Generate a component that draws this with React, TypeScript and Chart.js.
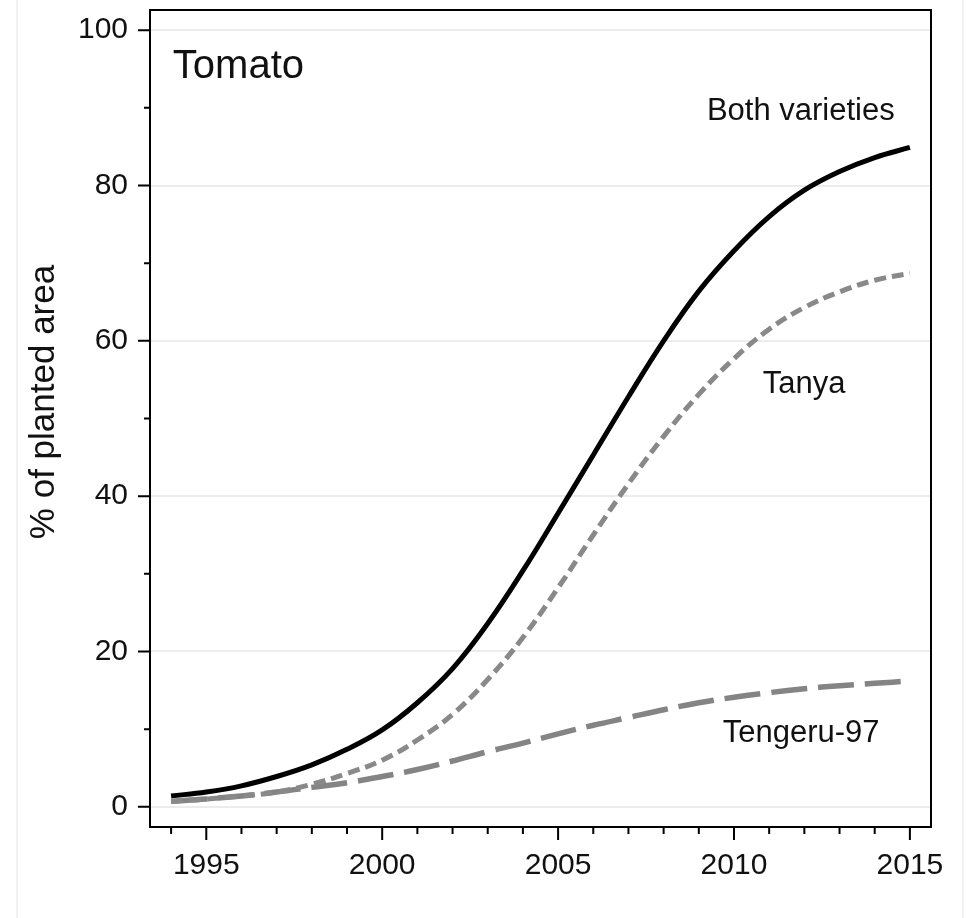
import React, { useEffect, useRef } from "react";
import { Chart, registerables } from "chart.js";

Chart.register(...registerables);

// ---- data ----
const years = [1994, 1995, 1996, 1997, 1998, 1999, 2000, 2001, 2002, 2003, 2004, 2005, 2006, 2007, 2008, 2009, 2010, 2011, 2012, 2013, 2014, 2015];
const bothVarieties = [1.4, 1.9, 2.7, 3.9, 5.4, 7.4, 9.9, 13.4, 17.8, 23.6, 30.4, 37.8, 45.3, 52.8, 60.0, 66.4, 71.6, 76.0, 79.4, 81.8, 83.6, 84.9];
const tanya = [0.7, 1.0, 1.4, 1.9, 2.9, 4.3, 6.0, 8.6, 11.9, 16.4, 21.8, 28.2, 35.0, 41.6, 47.7, 53.1, 57.7, 61.5, 64.3, 66.3, 67.8, 68.7];
const tengeru97 = [0.7, 1.0, 1.4, 1.9, 2.5, 3.1, 3.9, 4.8, 5.9, 7.1, 8.2, 9.4, 10.5, 11.5, 12.5, 13.4, 14.1, 14.7, 15.2, 15.6, 15.9, 16.2];

const seriesNames = ["Both varieties", "Tanya", "Tengeru-97"];
const panelTitle = "Tomato";
const yAxisTitle = "% of planted area";

const yTickValues = [0, 10, 20, 30, 40, 50, 60, 70, 80, 90, 100];
const yLabelValues = [0, 20, 40, 60, 80, 100];
const xLabelYears = [1995, 2000, 2005, 2010, 2015];

const FONT = '"Liberation Sans", Arial, Helvetica, sans-serif';

// text anchors in data coordinates (left x, baseline y)
const textAnchors = [
  { text: panelTitle, x: 1994.05, y: 93.8, size: 40 },
  { text: seriesNames[0], x: 2009.23, y: 88.4, size: 31 },
  { text: seriesNames[1], x: 2010.82, y: 53.3, size: 31 },
  { text: seriesNames[2], x: 2009.68, y: 8.4, size: 31 },
];

const decorPlugin = {
  id: "decor",
  afterDraw(chart: any) {
    const ctx = chart.ctx;
    const { left, right, top, bottom } = chart.chartArea;
    const xs = chart.scales.x;
    const ys = chart.scales.y;
    ctx.save();
    // faint outer frame lines
    ctx.strokeStyle = "#ededed";
    ctx.lineWidth = 1.5;
    ctx.beginPath();
    ctx.moveTo(17, 0);
    ctx.lineTo(17, chart.height);
    ctx.moveTo(963, 0);
    ctx.lineTo(963, chart.height);
    ctx.stroke();

    // plot box
    ctx.strokeStyle = "#000";
    ctx.lineWidth = 2;
    ctx.strokeRect(left, top, right - left, bottom - top);

    // tick marks
    ctx.beginPath();
    ys.ticks.forEach((t: any) => {
      const py = ys.getPixelForValue(t.value);
      const len = yLabelValues.includes(t.value) ? 12 : 6;
      ctx.moveTo(left - len, py);
      ctx.lineTo(left, py);
    });
    xs.ticks.forEach((t: any) => {
      const px = xs.getPixelForValue(t.value);
      const len = xLabelYears.includes(t.value) ? 13 : 7;
      ctx.moveTo(px, bottom);
      ctx.lineTo(px, bottom + len);
    });
    ctx.stroke();

    // annotations
    ctx.fillStyle = "#111";
    ctx.textBaseline = "alphabetic";
    ctx.textAlign = "left";
    textAnchors.forEach((a) => {
      ctx.font = `${a.size}px ${FONT}`;
      ctx.fillText(a.text, xs.getPixelForValue(a.x), ys.getPixelForValue(a.y));
    });

    // y axis title
    ctx.translate(54, 402);
    ctx.rotate(-Math.PI / 2);
    ctx.textAlign = "center";
    ctx.font = `35px ${FONT}`;
    ctx.fillText(yAxisTitle, 0, 0);
    ctx.restore();
  },
};

export default function App() {
  const canvasRef = useRef<HTMLCanvasElement | null>(null);

  useEffect(() => {
    if (!canvasRef.current) return;
    const toPoints = (vals: number[]) => years.map((yr, i) => ({ x: yr, y: vals[i] }));
    const chart = new Chart(canvasRef.current, {
      type: "line",
      data: {
        datasets: [
          {
            label: seriesNames[1],
            data: toPoints(tanya),
            borderColor: "#898989",
            borderWidth: 5,
            borderDash: [12, 6],
            pointRadius: 0,
            tension: 0.4,
            fill: false,
          },
          {
            label: seriesNames[2],
            data: toPoints(tengeru97),
            borderColor: "#848484",
            borderWidth: 5.5,
            borderDash: [36, 11],
            pointRadius: 0,
            tension: 0.4,
            fill: false,
          },
          {
            label: seriesNames[0],
            data: toPoints(bothVarieties),
            borderColor: "#000",
            borderWidth: 5,
            pointRadius: 0,
            tension: 0.4,
            fill: false,
          },
        ],
      },
      options: {
        animation: false,
        responsive: true,
        maintainAspectRatio: false,
        layout: { padding: { top: 10, right: 36, left: 0, bottom: 0 } },
        plugins: { legend: { display: false }, tooltip: { enabled: false }, title: { display: false } },
        scales: {
          x: {
            type: "linear",
            min: 1993.4,
            max: 2015.6,
            afterBuildTicks: (scale: any) => {
              scale.ticks = years.map((v) => ({ value: v }));
            },
            afterFit: (scale: any) => {
              scale.height = 91;
              scale.paddingLeft = 0;
              scale.paddingRight = 0;
            },
            border: { display: false },
            grid: { display: true, drawOnChartArea: false, drawTicks: false },
            ticks: {
              autoSkip: false,
              maxRotation: 0,
              minRotation: 0,
              padding: 21,
              color: "#111",
              font: { family: FONT, size: 30 },
              callback: (v: any) => (xLabelYears.includes(Number(v)) ? String(v) : ""),
            },
          },
          y: {
            type: "linear",
            min: -2.6,
            max: 102.6,
            afterBuildTicks: (scale: any) => {
              scale.ticks = yTickValues.map((v) => ({ value: v }));
            },
            afterFit: (scale: any) => {
              scale.width = 150;
              scale.paddingTop = 0;
              scale.paddingBottom = 0;
            },
            border: { display: false },
            grid: {
              display: true,
              drawTicks: false,
              lineWidth: 2,
              color: (c: any) => (c.tick && yLabelValues.includes(c.tick.value) ? "#ececec" : "rgba(0,0,0,0)"),
            },
            ticks: {
              autoSkip: false,
              padding: 22,
              color: "#111",
              font: { family: FONT, size: 30 },
              callback: (v: any) => (yLabelValues.includes(Number(v)) ? String(v) : ""),
            },
          },
        },
      },
      plugins: [decorPlugin],
    });
    return () => chart.destroy();
  }, []);

  return (
    <div style={{ position: "absolute", left: 0, top: 0, width: 967, height: 918, background: "#fff" }}>
      <canvas ref={canvasRef} />
    </div>
  );
}
